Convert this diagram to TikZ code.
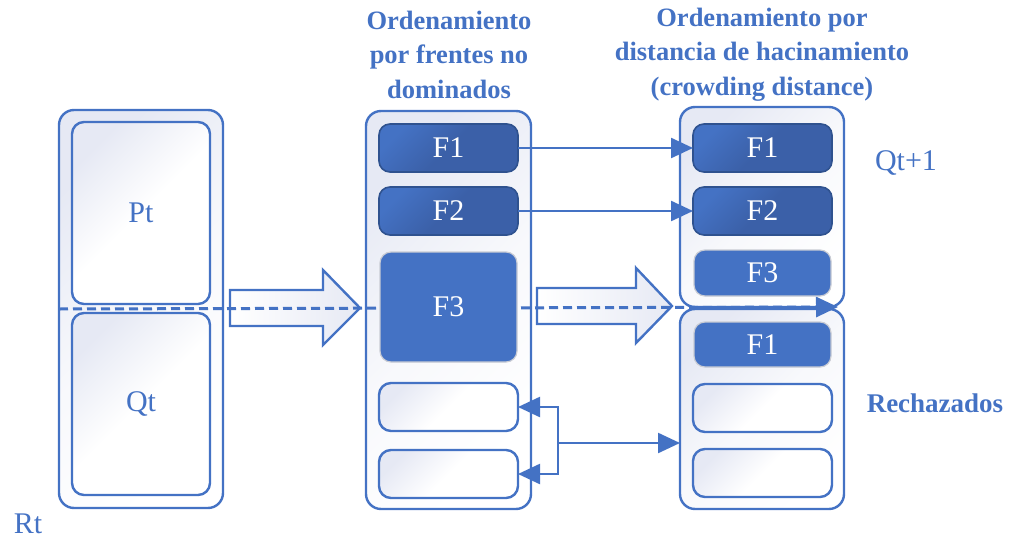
\documentclass[tikz,border=0pt]{standalone}
\usepackage{fontspec}
\setmainfont{Liberation Serif}
\usetikzlibrary{arrows.meta}
\definecolor{accent}{HTML}{4472C4}
\definecolor{deep}{HTML}{3B60A8}
\definecolor{deepedge}{HTML}{2F528F}
\definecolor{tint}{HTML}{E6E9F4}
\definecolor{softedge}{HTML}{C9CCD4}

\begin{document}
\begin{tikzpicture}[x=1pt,y=-1pt,
  every node/.style={inner sep=0pt, outer sep=0pt},
  frame/.style={draw=accent, line width=2.4pt, rounded corners=15pt,
    top color=tint, bottom color=white, middle color=white!70!tint, shading angle=45},
  slot/.style={draw=accent, line width=2.4pt, rounded corners=12pt,
    top color=tint, bottom color=white, middle color=white, shading angle=45},
  front/.style={draw=deepedge, line width=1.6pt, rounded corners=11pt,
    top color=accent, bottom color=deep, middle color=deep, shading angle=45,
    text=white, font=\fontsize{30}{36}\selectfont},
  cut/.style={draw=softedge, line width=1.2pt, rounded corners=11pt,
    fill=accent, text=white, font=\fontsize{30}{36}\selectfont},
  plain/.style={text=accent, font=\fontsize{30}{36}\selectfont},
  heading/.style={text=accent, align=center,
    font=\fontsize{26.5}{34.5}\selectfont\bfseries},
  tip/.tip={Triangle[length=22pt,width=20pt]},
  conn/.style={draw=accent, line width=2.4pt, -tip},
  hollow/.style={draw=accent, line width=2.4pt, left color=white, right color=tint}
]
\useasboundingbox (0,0) rectangle (1013,541);

% population R_t = P_t + Q_t
\node[frame, minimum width=164pt, minimum height=398pt] (R) at (141,309) {};
\node[slot, minimum width=138pt, minimum height=182pt, plain] (P) at (141,213) {Pt};
\node[slot, minimum width=138pt, minimum height=182pt, plain] (Q) at (141,404) {Qt};
\node[plain] (rt) at (28,524) {Rt};

% non-dominated sorting column
\node[frame, minimum width=165pt, minimum height=398pt] (M) at (448.5,310) {};

% crowding-distance column
\node[frame, minimum width=164pt, minimum height=200pt] (T) at (762,207) {};
\node[frame, minimum width=164pt, minimum height=200pt] (B) at (762,409) {};

% wide transfer arrows
\filldraw[hollow] (230,290) -- (323,290) -- (323,270) -- (360,308) -- (323,345)
  -- (323,326) -- (230,326) -- cycle;
\filldraw[hollow] (537,288) -- (636,288) -- (636,268) -- (672,306) -- (636,343)
  -- (636,324) -- (537,324) -- cycle;

% split line between kept and rejected
\coordinate (cutend) at (838,307);
\draw[draw=accent, line width=3pt, dash pattern=on 9pt off 5pt, -tip] (R.west) -- (cutend);

% fronts
\node[front, minimum width=139pt, minimum height=48pt] (m1) at (448.5,148) {F1};
\node[front, minimum width=139pt, minimum height=48pt] (m2) at (448.5,211) {F2};
\node[cut, minimum width=137pt, minimum height=110pt] (m3) at (448.5,307) {F3};
\node[slot, minimum width=139pt, minimum height=48pt] (m4) at (448.5,407) {};
\node[slot, minimum width=139pt, minimum height=48pt] (m5) at (448.5,474) {};

\node[front, minimum width=139pt, minimum height=48pt] (r1) at (762.5,148) {F1};
\node[front, minimum width=139pt, minimum height=48pt] (r2) at (762.5,211) {F2};
\node[cut, minimum width=137pt, minimum height=46pt] (r3) at (762.5,273) {F3};
\node[cut, minimum width=137pt, minimum height=45pt] (b1) at (762.5,344.5) {F1};
\node[slot, minimum width=139pt, minimum height=48pt] (b2) at (762.5,408) {};
\node[slot, minimum width=139pt, minimum height=48pt] (b3) at (762.5,473) {};

% labels
\node[plain] (qnext) at (906,163) {Qt+1};
\node[plain, font=\fontsize{27}{32}\selectfont\bfseries] (rej) at (935,403) {Rechazados};
\node[heading] (h1) at (449,54.5) {Ordenamiento\\por frentes no\\dominados};
\node[heading] (h2) at (762,54.5) {Ordenamiento por\\distancia de hacinamiento\\(crowding distance)};

% connectors
\draw[conn] (m1.east) -- (r1.west);
\draw[conn] (m2.east) -- (r2.west);
\coordinate (fork) at (558,443);
\draw[draw=accent, line width=2.4pt, tip-tip] (m4.east) -| (fork) |- (m5.east);
\draw[conn] (fork) -- (fork -| B.west);
\end{tikzpicture}
\end{document}
